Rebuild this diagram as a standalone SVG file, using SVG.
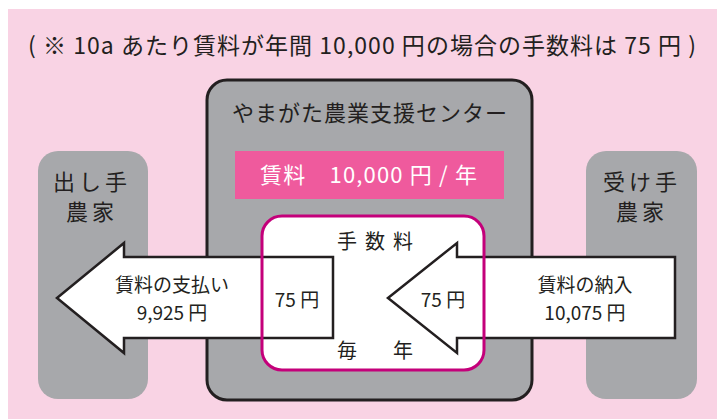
<svg xmlns="http://www.w3.org/2000/svg" width="717" height="419" viewBox="0 0 717 419">
<style>
text{font-family:"Noto Sans CJK JP","Noto Sans",sans-serif;fill:#231F20;}
.farm{fill:#A7A8AB;}
.lbl{font-size:22px;text-anchor:middle;}
.al{font-size:19px;text-anchor:middle;}
.arrow{fill:#FFFFFF;stroke:#231F20;stroke-width:2.5;stroke-linejoin:miter;}
</style>
<rect x="8" y="9" width="709" height="410" fill="#F9D3E4"/>
<text x="28" y="54" font-size="23" textLength="668">( ※ 10a あたり賃料が年間 10,000 円の場合の手数料は 75 円 )</text>
<g id="lender">
<rect class="farm" x="38" y="151" width="110" height="248" rx="20"/>
<text class="lbl" x="92" y="190" letter-spacing="4">出し手</text>
<text class="lbl" x="92" y="220" letter-spacing="4">農家</text>
</g>
<g id="borrower">
<rect class="farm" x="586" y="151" width="111" height="248" rx="20"/>
<text class="lbl" x="642" y="190" letter-spacing="4">受け手</text>
<text class="lbl" x="642" y="220" letter-spacing="4">農家</text>
</g>
<g id="center">
<rect x="207" y="80" width="325" height="320" rx="20" fill="#A7A8AB" stroke="#231F20" stroke-width="3"/>
<text x="232" y="121" font-size="22" textLength="275">やまがた農業支援センター</text>
<rect x="235" y="151" width="269" height="48" fill="#EF5A9D"/>
<text x="260" y="183" font-size="22" textLength="217" style="fill:#FFFFFF">賃料　10,000 円 / 年</text>
</g>
<g id="fee">
<rect x="262" y="216" width="222" height="154" rx="20" fill="#FFFFFF"/>
<text x="337" y="249" font-size="20" textLength="76">手数料</text>
<text x="337" y="358" font-size="20" textLength="76">毎　年</text>
</g>
<g id="connectors">
<g id="payment">
<path class="arrow" d="M57,298 L124,243 L124,257 L333,257 L333,338 L124,338 L124,353 Z"/>
<text class="al" x="172" y="292">賃料の支払い</text>
<text class="al" x="172" y="320">9,925 円</text>
<text class="al" x="297" y="307">75 円</text>
</g>
<g id="rent">
<path class="arrow" d="M388,298 L457,243 L457,257 L675,257 L675,338 L457,338 L457,353 Z"/>
<text class="al" x="585" y="292">賃料の納入</text>
<text class="al" x="585" y="320">10,075 円</text>
<text class="al" x="443" y="307">75 円</text>
</g>
</g>
<rect id="fee-border" x="262" y="216" width="222" height="154" rx="20" fill="none" stroke="#C4007A" stroke-width="3"/>
</svg>
